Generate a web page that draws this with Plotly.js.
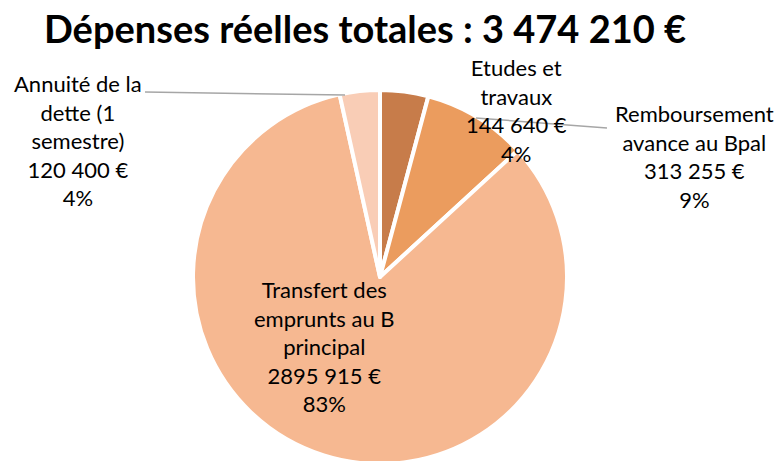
<!DOCTYPE html>
<html><head><meta charset="utf-8">
<script src="https://cdn.plot.ly/plotly-3.0.1.min.js"></script>
<style>html,body{margin:0;padding:0;overflow:hidden;background:#fff;width:784px;height:461px}</style>
</head><body>
<div id="chart" style="width:784px;height:470px"></div>
<script>
const categories = ["Etudes et travaux", "Remboursement avance au Bpal", "Transfert des emprunts au B principal", "Annuité de la dette (1 semestre)"];
const labelTexts = ["Etudes et<br>travaux", "Remboursement<br>avance au Bpal", "Transfert des<br>emprunts au B<br>principal", "Annuité de la<br>dette (1<br>semestre)"];
const values = [144640, 313255, 2895915, 120400];
const valueLabels = ["144 640 €", "313 255 €", "2895 915 €", "120 400 €"];
const pctLabels = ["4%", "9%", "83%", "4%"];
const colors = ["#c77c4a", "#eb9c5e", "#f6b891", "#f9cdb6"];
const titleText = "Dépenses réelles totales : 3 474 210 €";

const W = 784, H = 470;
const px = x => x / W, py = y => 1 - y / H;
const labelPos = [[516, 110], [694, 156], [324, 346], [78, 140]];
const FONT = "Lato, 'Open Sans', sans-serif";

const annotations = categories.map((c, i) => ({
  xref: 'paper', yref: 'paper', x: px(labelPos[i][0]), y: py(labelPos[i][1]),
  xanchor: 'center', yanchor: 'middle', showarrow: false, align: 'center',
  text: labelTexts[i] + '<br>' + valueLabels[i] + '<br>' + pctLabels[i],
  font: {family: FONT, size: 22, color: '#000'}
}));

const shapes = [
  {type: 'line', xref: 'paper', yref: 'paper', x0: px(145), y0: py(92), x1: px(345), y1: py(95), line: {color: '#a6a6a6', width: 1.5}},
  {type: 'line', xref: 'paper', yref: 'paper', x0: px(476), y0: py(118), x1: px(607), y1: py(128), line: {color: '#a6a6a6', width: 1.5}}
];

const data = [{
  type: 'pie', labels: categories, values: values, sort: false, direction: 'clockwise', rotation: 0,
  marker: {colors: colors, line: {color: '#ffffff', width: 4}},
  textinfo: 'none', hoverinfo: 'label+value+percent', showlegend: false,
  domain: {x: [px(193), px(567)], y: [py(464), py(90)]}
}];

const layout = {
  width: W, height: H, margin: {l: 0, r: 0, t: 0, b: 0},
  paper_bgcolor: '#fff', plot_bgcolor: '#fff',
  title: {text: '<b>' + titleText + '</b>', x: px(365), y: py(30), xanchor: 'center', yanchor: 'middle', xref: 'paper', yref: 'container',
    font: {family: FONT, size: 38, color: '#000'}},
  annotations: annotations, shapes: shapes
};
Plotly.newPlot('chart', data, layout, {displayModeBar: false, staticPlot: true});
</script>
</body></html>
